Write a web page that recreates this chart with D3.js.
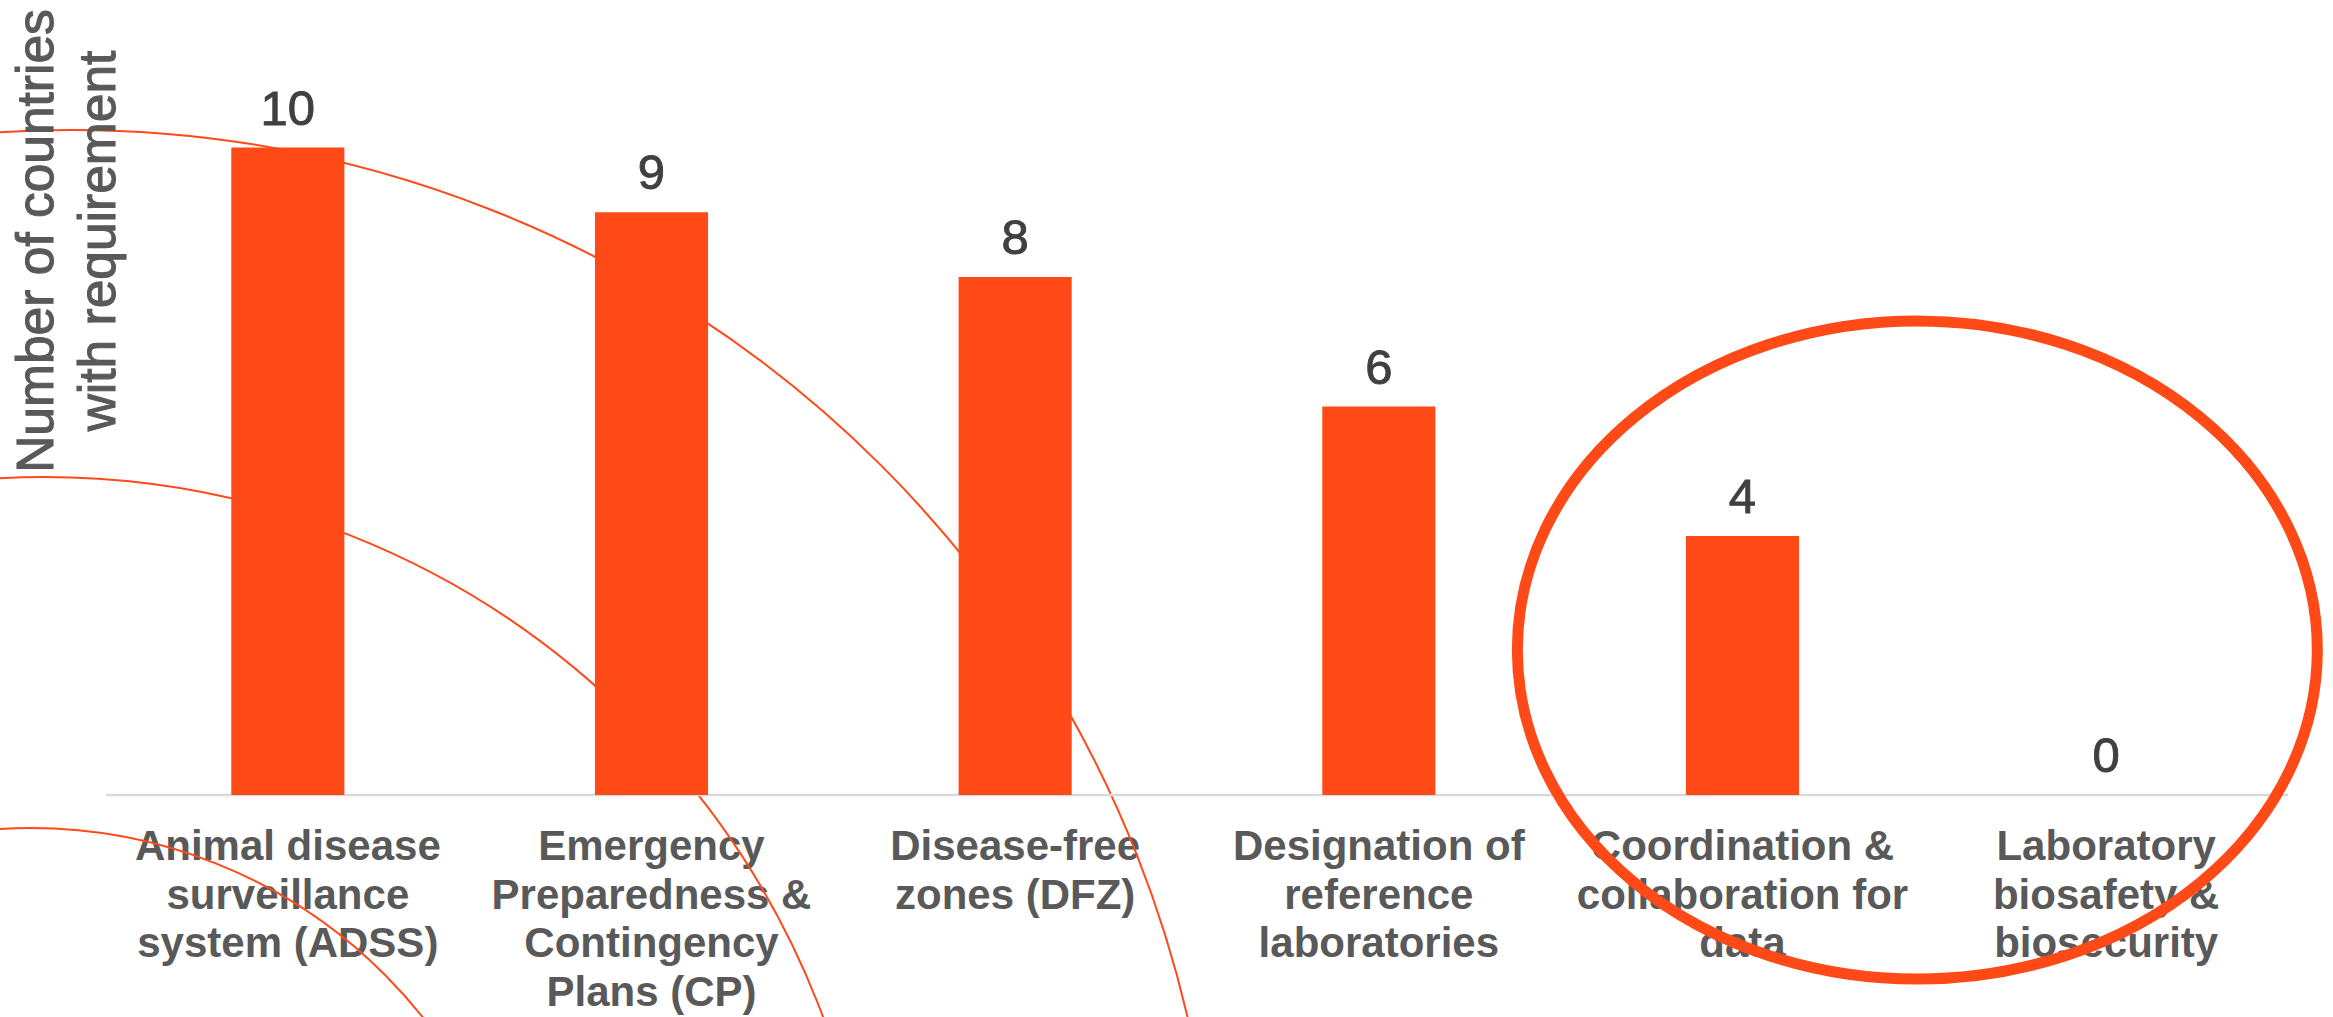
<!DOCTYPE html>
<html>
<head>
<meta charset="utf-8">
<script src="https://cdn.jsdelivr.net/npm/d3@7"></script>
<style>
  html, body { margin: 0; padding: 0; background: #ffffff; }
  svg { display: block; font-family: "Liberation Sans", Arial, Helvetica, sans-serif; }
</style>
</head>
<body>
<svg id="chart" width="2333" height="1017"></svg>
<script>
// Requirement categories (line breaks mark the wrapped label lines)
const categories = [
  "Animal disease\nsurveillance\nsystem (ADSS)",
  "Emergency\nPreparedness &\nContingency\nPlans (CP)",
  "Disease-free\nzones (DFZ)",
  "Designation of\nreference\nlaboratories",
  "Coordination &\ncollaboration for\ndata",
  "Laboratory\nbiosafety &\nbiosecurity"
];
// Number of countries that have each requirement
const counts = [10, 9, 8, 6, 4, 0];
const yTitleLines = ["Number of countries", "with requirement"];

const W = 2333, H = 1017;
const baseY = 795;
const accent = "#FF4A18";

const svg = d3.select("#chart");

const x = d3.scaleBand().domain(categories).range([106, 2288]).padding(0);
const y = d3.scaleLinear().domain([0, 10]).range([baseY, 147.5]);
const barW = x.bandwidth() * 0.311;
const cx = d => x(d) + x.bandwidth() / 2;

// Category labels under the baseline
const xAxis = svg.append("g");
categories.forEach(c => {
  const t = xAxis.append("text")
    .attr("x", cx(c))
    .attr("y", 860)
    .attr("text-anchor", "middle")
    .attr("font-size", 42)
    .attr("font-weight", "bold")
    .attr("fill", "#595959");
  c.split("\n").forEach((line, i) => {
    t.append("tspan").attr("x", cx(c)).attr("dy", i === 0 ? 0 : 48.5).text(line);
  });
});

// Decorative thin arcs sweeping in from the left edge
const arcs = [
  { cx: 71, cy: 1276, r: 1146 },
  { cx: 44, cy: 1309, r: 832 },
  { cx: 31, cy: 1328, r: 500 }
];
svg.append("g").selectAll("circle").data(arcs).join("circle")
  .attr("cx", d => d.cx).attr("cy", d => d.cy).attr("r", d => d.r)
  .attr("fill", "none").attr("stroke", accent).attr("stroke-width", 2);

// Baseline
svg.append("line")
  .attr("x1", x.range()[0]).attr("x2", x.range()[1])
  .attr("y1", baseY).attr("y2", baseY)
  .attr("stroke", "#d9d9d9").attr("stroke-width", 2.5);

// Bars
svg.append("g").selectAll("rect").data(categories).join("rect")
  .attr("x", d => cx(d) - barW / 2)
  .attr("width", barW)
  .attr("y", (d, i) => y(counts[i]))
  .attr("height", (d, i) => baseY - y(counts[i]))
  .attr("fill", accent);

// Value labels above the bars
svg.append("g").selectAll("text").data(categories).join("text")
  .attr("x", d => cx(d))
  .attr("y", (d, i) => y(counts[i]) - 23)
  .attr("text-anchor", "middle")
  .attr("font-size", 49)
  .attr("fill", "#404040")
  .attr("stroke", "#404040")
  .attr("stroke-width", 0.9)
  .text((d, i) => counts[i]);

// Y axis title, rotated
const yt = svg.append("text")
  .attr("transform", "translate(53,241) rotate(-90)")
  .attr("text-anchor", "middle")
  .attr("font-size", 51.5)
  .attr("fill", "#595959")
  .attr("stroke", "#595959")
  .attr("stroke-width", 1.1);
yTitleLines.forEach((line, i) => {
  yt.append("tspan").attr("x", 0).attr("dy", i === 0 ? 0 : 62).text(line);
});

// Highlight ring around the two lowest categories
const ringX = (cx(categories[4]) + cx(categories[5])) / 2 - 7;
svg.append("ellipse")
  .attr("cx", ringX).attr("cy", 650)
  .attr("rx", 400).attr("ry", 329)
  .attr("fill", "none").attr("stroke", accent).attr("stroke-width", 11);
</script>
</body>
</html>
